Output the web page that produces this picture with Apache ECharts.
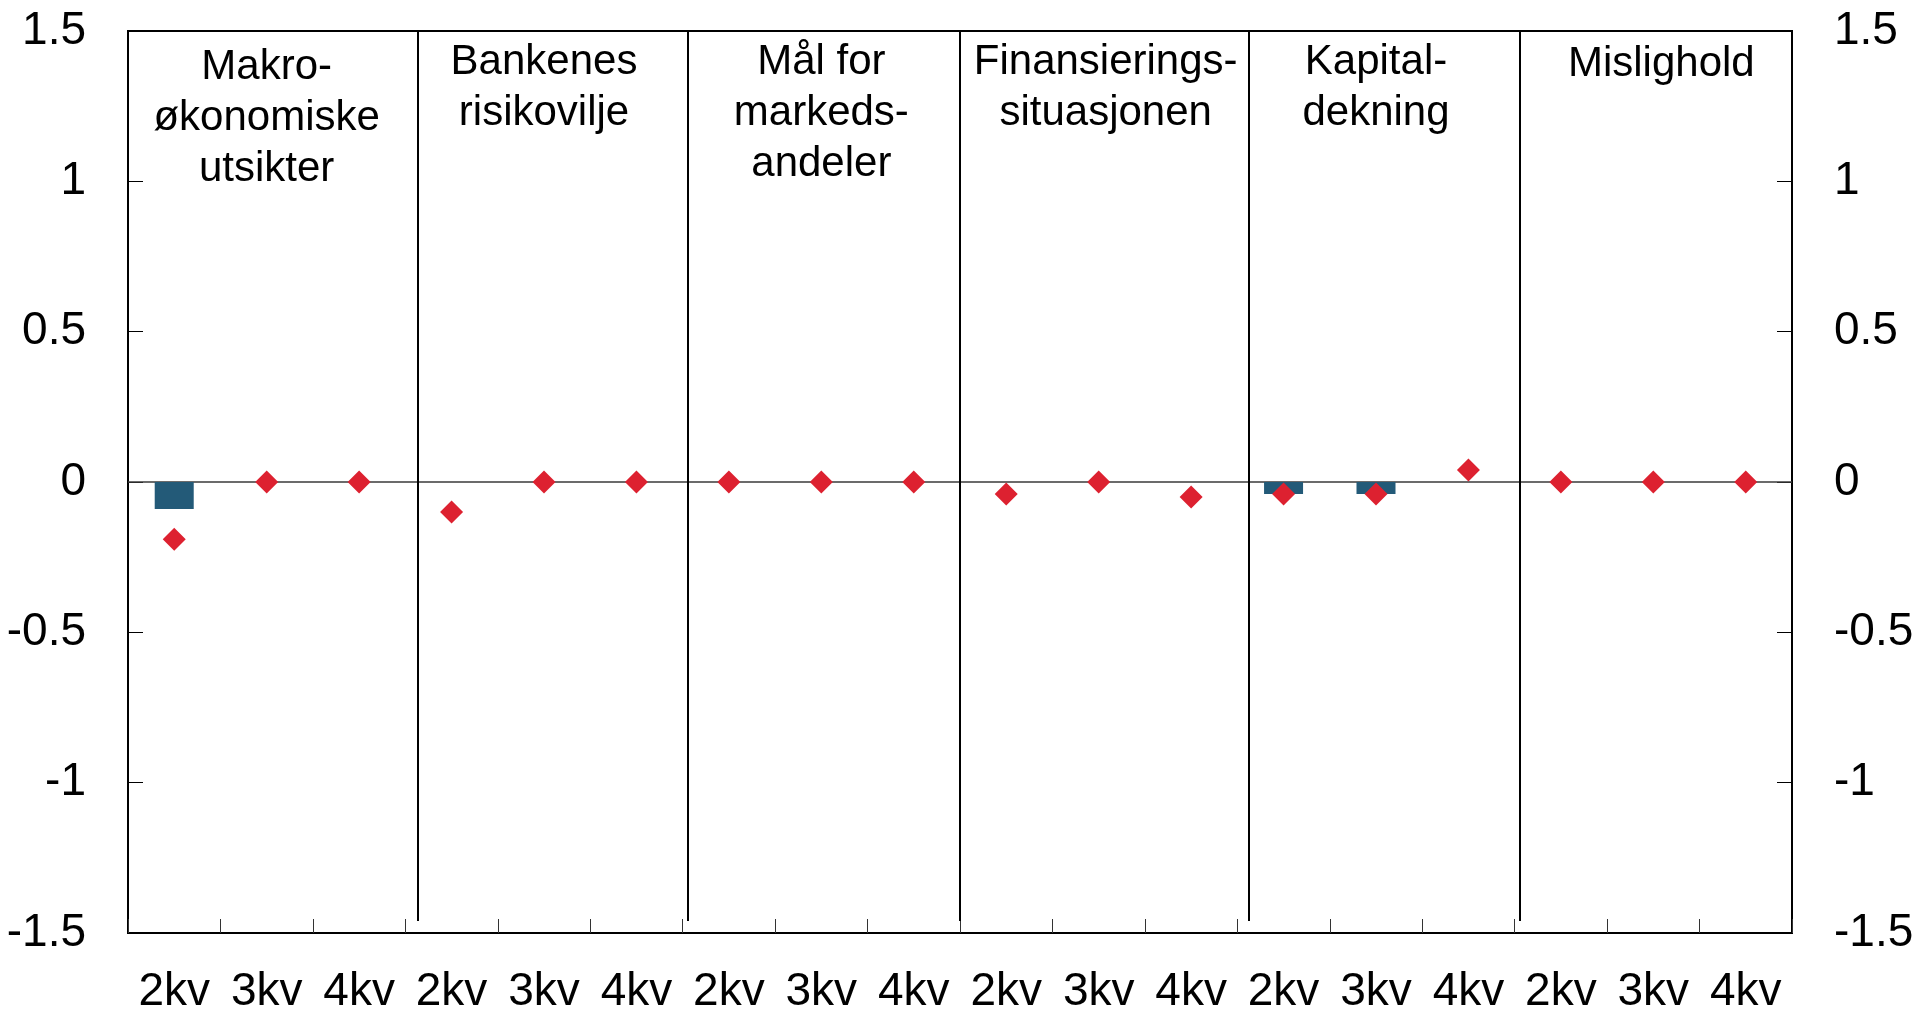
<!DOCTYPE html>
<html>
<head>
<meta charset="utf-8">
<script src="https://cdn.jsdelivr.net/npm/echarts@6/dist/echarts.min.js"></script>
<style>
  html, body { margin: 0; padding: 0; background: #fff; }
  #chart { width: 1920px; height: 1009px; }
</style>
</head>
<body>
<div id="chart"></div>
<script>
// kvartaler, seks grupper a tre
const categories = [
  '2kv', '3kv', '4kv', '2kv', '3kv', '4kv', '2kv', '3kv', '4kv',
  '2kv', '3kv', '4kv', '2kv', '3kv', '4kv', '2kv', '3kv', '4kv'
]
const groupTitles = [
  'Makro-\nøkonomiske\nutsikter',
  'Bankenes\nrisikovilje',
  'Mål for\nmarkeds-\nandeler',
  'Finansierings-\nsituasjonen',
  'Kapital-\ndekning',
  'Mislighold'
]
const groupCenters = [1, 4, 7, 10, 13, 16]
// søyler
const barValues = [
  -0.09, 0, 0, 0, 0, 0, 0, 0, 0,
  0, 0, 0, -0.04, -0.04, 0, 0, 0, 0
]
// røde punkter
const pointValues = [
  -0.19, 0, 0, -0.1, 0, 0, 0, 0, 0,
  -0.04, 0, -0.05, -0.04, -0.04, 0.04, 0, 0, 0
]
// skillelinjer mellom gruppene (i kategorienheter)
const separatorPos = [3.13, 6.06, 9, 12.12, 15.05]

const font = "'Liberation Sans', Arial, sans-serif"
// små justeringer av titlene (px)
const titleShift = [[0, 5], [0, 0], [0, 0], [7, 0], [0, 0], [8, 2]]

const chart = echarts.init(document.getElementById('chart'))

const yAxisBase = {
  type: 'value',
  min: -1.5,
  max: 1.5,
  interval: 0.5,
  splitLine: { show: false },
  axisLine: { show: true, lineStyle: { color: '#000', width: 2 } },
  axisTick: { show: true, inside: true, length: 15, lineStyle: { color: '#000', width: 1 } },
  axisLabel: { color: '#000', fontSize: 46, fontFamily: font, margin: 42 }
}

const option = {
  animation: false,
  grid: {
    left: 128,
    right: 128,
    top: 31,
    bottom: 76,
    outerBoundsMode: 'none',
    containLabel: false,
    show: true,
    borderColor: '#000',
    borderWidth: 2
  },
  xAxis: [
    {
      type: 'category',
      data: categories,
      boundaryGap: true,
      axisLine: { show: true, onZero: false, lineStyle: { color: '#000', width: 2 } },
      axisTick: { show: true, inside: true, length: 14, interval: 0, lineStyle: { color: '#333', width: 1 } },
      axisLabel: { color: '#000', fontSize: 46, fontFamily: font, margin: 36, interval: 0 }
    },
    {
      type: 'value',
      min: 0,
      max: 18,
      show: false
    }
  ],
  yAxis: [
    { ...yAxisBase, position: 'left' },
    { ...yAxisBase, position: 'right' }
  ],
  series: [
    {
      type: 'bar',
      data: barValues,
      barWidth: 39,
      itemStyle: { color: '#235a78' },
      z: 2,
      markLine: {
        silent: true,
        symbol: 'none',
        label: { show: false },
        lineStyle: { color: '#3a3a3a', width: 1.5, type: 'solid' },
        data: [{ yAxis: 0 }],
        z: 1
      }
    },
    {
      type: 'scatter',
      data: pointValues,
      symbol: 'diamond',
      symbolSize: 23,
      itemStyle: { color: '#dd2130', opacity: 1 },
      z: 5
    },
    {
      type: 'scatter',
      xAxisIndex: 1,
      data: [[0, 0]],
      symbolSize: 0,
      silent: true,
      markLine: {
        silent: true,
        symbol: 'none',
        label: { show: false },
        lineStyle: { color: '#000', width: 2, type: 'solid' },
        data: separatorPos.map(p => [{ coord: [p, -1.46] }, { coord: [p, 1.5] }])
      }
    },
    {
      type: 'scatter',
      silent: true,
      symbolSize: 0,
      itemStyle: { opacity: 1 },
      data: groupCenters.map((c, i) => ({
        value: [c, 1.5],
        name: groupTitles[i],
        label: { offset: titleShift[i] }
      })),
      label: {
        show: true,
        position: 'bottom',
        distance: 6,
        formatter: p => p.name,
        color: '#000',
        fontSize: 42,
        lineHeight: 51,
        fontFamily: font,
        align: 'center'
      }
    }
  ]
}

chart.setOption(option)
</script>
</body>
</html>
